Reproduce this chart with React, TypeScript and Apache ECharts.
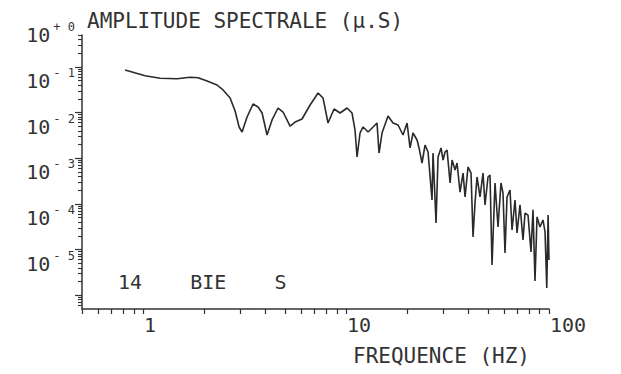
import React, { useEffect, useRef } from 'react';
import * as echarts from 'echarts';

// Frequency (Hz) and spectral amplitude (µ.S)
const freqHz = [
  0.815, 1.023, 1.213, 1.47, 1.704, 1.866, 2.067, 2.315, 2.477, 2.684,
  2.84, 2.972, 3.074, 3.253, 3.483, 3.686, 3.857, 4.081, 4.319, 4.624,
  4.894, 5.3, 5.61, 6.07, 6.65, 7.28, 7.7, 8.15, 8.73, 9.34,
  10.12, 10.7, 11.07, 11.33, 11.72, 12.13, 12.84, 13.9, 14.21, 14.54,
  15.04, 16.1, 17.04, 18.04, 19.09, 19.98, 20.67, 21.38, 22.38, 22.89,
  23.68, 24.5, 25.35, 26.52, 26.83, 27.76, 28.4, 29.38, 30.06, 30.75,
  31.46, 32.55, 33.3, 34.45, 35.23, 36.45, 37.72, 38.58, 39.9, 41.29,
  42.23, 43.2, 44.19, 45.72, 47.3, 48.38, 50.06, 51.21, 52.39, 54.2,
  56.08, 58.0, 59.34, 60.71, 62.11, 64.26, 65.74, 68.0, 69.58, 71.97,
  74.46, 76.18, 78.82, 81.53, 83.41, 85.3, 87.3, 90.3, 93.4, 95.6,
  97.5, 99.0, 100,
];
const amplitude = [
  0.0857, 0.0643, 0.0564, 0.0552, 0.0593, 0.0581, 0.0492, 0.0402, 0.0313, 0.0209,
  0.0108, 0.00484, 0.00376, 0.008, 0.0154, 0.01325, 0.0098, 0.00323, 0.00689, 0.0126,
  0.0103, 0.00508, 0.00622, 0.00724, 0.01466, 0.0269, 0.0209, 0.00592, 0.012, 0.0098,
  0.0126, 0.0098, 0.00416, 0.00107, 0.00357, 0.00484, 0.00376, 0.00535, 0.00592, 0.0013,
  0.00357, 0.0084, 0.00592, 0.00535, 0.00323, 0.00592, 0.00168, 0.00357, 0.00251, 0.00168,
  0.000787, 0.00195, 0.00137, 0.000122, 0.0013, 0.0000383, 0.00107, 0.00168, 0.000916, 0.00137,
  0.00152, 0.000287, 0.000916, 0.000553, 0.000787, 0.000182, 0.000475, 0.000142, 0.000644, 0.000475,
  0.0000189, 0.000105, 0.000389, 0.000142, 0.000475, 0.000095, 0.000389, 0.00043, 0.0000046, 0.000287,
  0.0000313, 0.000287, 0.000173, 0.0000084, 0.000142, 0.000202, 0.0000269, 0.000122, 0.0000231, 0.000095,
  0.0000162, 0.000063, 0.000057, 0.0000089, 0.000074, 0.00000206, 0.000052, 0.0000313, 0.0000445, 0.0000243,
  0.00000144, 0.000057, 0.0000059,
];

const xRange = [0.5, 100];
const yRange = [5e-7, 0.5];
const yLabelTop = 1; // the labels run up to 10^+0
const xLabelValues = [1, 10, 100];
const yLabelValues = [1e-5, 1e-4, 1e-3, 1e-2, 1e-1, 1];
const yMajorTicks = [1e-6, 1e-5, 1e-4, 1e-3, 1e-2, 1e-1];
const titleText = 'AMPLITUDE SPECTRALE (μ.S)';
const xTitleText = 'FREQUENCE (HZ)';
const stationText = '14    BIE    S';

const FONT = 'DejaVu Sans Mono';
const INK = '#333';

function logTicks(lo: number, hi: number, mults: number[]) {
  const out: number[] = [];
  for (let k = -8; k <= 3; k++) {
    for (const m of mults) {
      const v = parseFloat((m * Math.pow(10, k)).toPrecision(6));
      if (v >= lo * 0.9999 && v <= hi * 1.0001) out.push(v);
    }
  }
  return out;
}

export default function App() {
  const ref = useRef<HTMLDivElement>(null);
  useEffect(() => {
    if (!ref.current) return;
    const chart = echarts.init(ref.current, null, { renderer: 'svg' });
    const yMinor = logTicks(yRange[0] * 1.01, yRange[1], [2, 3, 4, 5, 6, 7, 8, 9]);
    const xTicks = logTicks(xRange[0], xRange[1], [1, 2, 3, 4, 5, 6, 7, 8, 9]);
    const gridBox = { left: 82, right: 72, bottom: 65 };
    const pxPerDecade = (309 - 35) / Math.log10(yRange[1] / yRange[0]);
    const topLabelGrid = 35 - Math.log10(yLabelTop / yRange[1]) * pxPerDecade;
    const txt = { fontFamily: FONT, fontSize: 20, fontWeight: 'normal', color: INK };
    chart.setOption({
      animation: false,
      backgroundColor: '#fff',
      title: [
        { text: titleText, left: 87, top: 10, padding: 0, textStyle: { ...txt, fontSize: 21 } },
        { text: xTitleText, left: 353, top: 345, padding: 0, textStyle: { ...txt, fontSize: 21 } },
        { text: stationText, left: 118, top: 272, padding: 0, textStyle: txt },
      ],
      grid: [
        { ...gridBox, top: 35 },
        { ...gridBox, top: topLabelGrid },
      ],
      xAxis: [
        {
          type: 'log', logBase: 10, gridIndex: 0, min: xRange[0], max: xRange[1],
          axisLine: { lineStyle: { color: INK, width: 1.5 } },
          axisTick: { customValues: xTicks, length: 5, lineStyle: { color: INK, width: 1.2 } },
          minorTick: { show: false },
          splitLine: { show: false },
          axisLabel: {
            customValues: xLabelValues, align: 'left', margin: 6, padding: [0, 0, 0, 1],
            fontFamily: FONT, fontSize: 20, color: INK,
            formatter: (v: number) => String(Math.round(v)),
          },
        },
        { type: 'log', gridIndex: 1, min: xRange[0], max: xRange[1], show: false },
      ],
      yAxis: [
        {
          type: 'log', logBase: 10, gridIndex: 0, min: yRange[0], max: yRange[1],
          axisLine: { show: true, lineStyle: { color: INK, width: 1.5 } },
          axisTick: { customValues: yMajorTicks, length: 7, lineStyle: { color: INK, width: 1.2 } },
          axisLabel: { show: false },
          splitLine: { show: false },
        },
        {
          type: 'log', logBase: 10, gridIndex: 1, min: yRange[0], max: yLabelTop,
          axisLine: { show: false },
          axisTick: { show: true, customValues: yMinor, length: 4, lineStyle: { color: INK, width: 1.1 } },
          splitLine: { show: false },
          axisLabel: {
            customValues: yLabelValues, margin: 7, verticalAlign: 'top',
            formatter: (v: number) => {
              const e = Math.round(Math.log10(v));
              return `{b|10}{e|${e >= 0 ? '+ ' + e : '- ' + Math.abs(e)}}`;
            },
            rich: {
              b: { fontFamily: FONT, fontSize: 20, lineHeight: 28, color: INK },
              e: { fontFamily: FONT, fontSize: 12, lineHeight: 7, verticalAlign: 'top', color: INK, padding: [0, 0, 0, 3] },
            },
          },
        },
      ],
      series: [
        {
          type: 'line', xAxisIndex: 0, yAxisIndex: 0,
          data: freqHz.map((f, i) => [f, amplitude[i]]),
          showSymbol: false, smooth: false,
          lineStyle: { color: '#2a2a2a', width: 1.6 },
        },
      ],
    });
    return () => chart.dispose();
  }, []);
  return <div ref={ref} style={{ position: 'fixed', left: 0, top: 0, width: 621, height: 374 }} />;
}
